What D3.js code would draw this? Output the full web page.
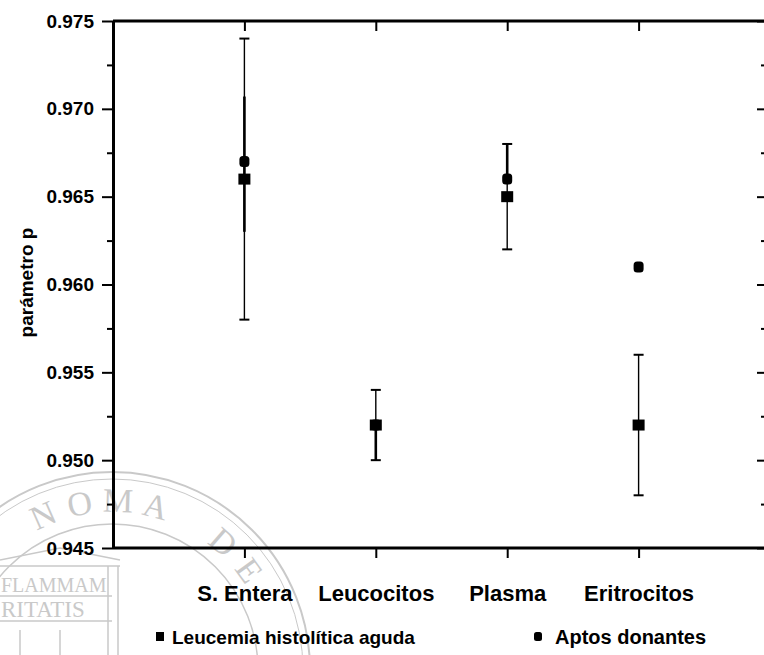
<!DOCTYPE html>
<html>
<head>
<meta charset="utf-8">
<script src="https://cdn.jsdelivr.net/npm/d3@7"></script>
<style>
  html, body { margin: 0; padding: 0; background: #fff; }
  svg { display: block; }
  text { font-family: "Liberation Sans", Arial, sans-serif; }
</style>
</head>
<body>
<svg id="chart" width="764" height="655"></svg>
<script>
// Categories along the x axis
const categories = ["S. Entera", "Leucocitos", "Plasma", "Eritrocitos"];

// Leucemia histolítica aguda: mean and error (±)
const leucemia = [0.966, 0.952, 0.965, 0.952];
const leucemiaErr = [0.008, 0.002, 0.003, 0.004];

// Aptos donantes: mean and error-bar extent
const aptos = [0.967, 0.952, 0.966, 0.961];
const aptosLow = [0.963, 0.950, 0.966, 0.961];
const aptosHigh = [0.9707, 0.952, 0.968, 0.961];

// Y tick values
const yMajor = [0.945, 0.950, 0.955, 0.960, 0.965, 0.970, 0.975];
const yMinor = [0.9475, 0.9525, 0.9575, 0.9625, 0.9675, 0.9725];

// Legend entries
const legendLabels = ["Leucemia histolítica aguda", "Aptos donantes"];

// Seal lettering (the part of the ring that falls on the page)
const sealText = "NOMA DE NUEVO";
const sealMotto = ["FLAMMAM", "RITATIS"];

const svg = d3.select("#chart");
const plotL = 113, plotR = 766, plotT = 21, plotB = 548;

const x = d3.scalePoint().domain(categories).range([plotL, 770]).padding(1);
const y = d3.scaleLinear().domain([0.945, 0.975]).range([plotB, plotT]);

// ---- faint university seal in the lower-left corner ----
const seal = svg.append("g").attr("class", "seal");
const sc = { x: 112, y: 670 };
const sealGray = "#c9c9c9";
const serif = "'Liberation Serif', 'DejaVu Serif', serif";
seal.append("circle").attr("cx", sc.x).attr("cy", sc.y).attr("r", 198)
  .attr("fill", "none").attr("stroke", sealGray).attr("stroke-width", 2);
seal.append("circle").attr("cx", sc.x).attr("cy", sc.y).attr("r", 191)
  .attr("fill", "none").attr("stroke", sealGray).attr("stroke-width", 1);
seal.append("circle").attr("cx", sc.x).attr("cy", sc.y).attr("r", 146)
  .attr("fill", "none").attr("stroke", sealGray).attr("stroke-width", 1.5);
const startAng = -114, stepAng = 13;
sealText.split("").forEach((ch, i) => {
  const a = startAng + i * stepAng;
  const rad = a * Math.PI / 180;
  const r = 158;
  const px = sc.x + r * Math.cos(rad), py = sc.y + r * Math.sin(rad);
  if (py > 640) return;
  seal.append("text")
    .attr("transform", `translate(${px},${py}) rotate(${a + 90})`)
    .attr("text-anchor", "middle")
    .style("font-family", serif)
    .style("font-size", "34px")
    .attr("fill", sealGray)
    .text(ch);
});
// building / inner emblem
seal.append("path")
  .attr("d", "M0,560 L60,548 L120,560 M0,566 L120,566 M0,596 L112,596 M0,621 L112,621 M108,566 L108,655 M118,566 L118,655 M20,630 L20,655 M60,630 L60,655")
  .attr("fill", "none").attr("stroke", sealGray).attr("stroke-width", 1.5);
seal.append("text").attr("x", 1).attr("y", 592)
  .style("font-family", serif).style("font-size", "20px").attr("fill", sealGray).text(sealMotto[0]);
seal.append("text").attr("x", 1).attr("y", 617)
  .style("font-family", serif).style("font-size", "23px").attr("fill", sealGray).text(sealMotto[1]);

// ---- axes ----
const tickFont = "bold 19px 'Liberation Sans', Arial, sans-serif";

// left axis with labels
const gLeft = svg.append("g").attr("transform", `translate(${plotL},0)`)
  .call(d3.axisLeft(y).tickValues(yMajor).tickFormat(d3.format(".3f")).tickSize(11).tickPadding(8).tickSizeOuter(0));
gLeft.selectAll("text").style("font", tickFont).attr("fill", "#000");
gLeft.selectAll(".tick line").attr("stroke", "#000").attr("stroke-width", 2);
gLeft.select(".domain").attr("stroke", "#000").attr("stroke-width", 3);
svg.append("g").attr("transform", `translate(${plotL},0)`)
  .call(d3.axisLeft(y).tickValues(yMinor).tickFormat("").tickSize(6).tickSizeOuter(0))
  .call(g => g.select(".domain").remove())
  .selectAll("line").attr("stroke", "#000").attr("stroke-width", 2);

// right axis (inward ticks)
const gRight = svg.append("g").attr("transform", `translate(${plotR},0)`)
  .call(d3.axisLeft(y).tickValues(yMajor).tickFormat("").tickSize(9).tickSizeOuter(0));
gRight.selectAll("line").attr("stroke", "#000").attr("stroke-width", 2);
gRight.select(".domain").attr("stroke", "#000").attr("stroke-width", 3);
svg.append("g").attr("transform", `translate(${plotR},0)`)
  .call(d3.axisLeft(y).tickValues(yMinor).tickFormat("").tickSize(5).tickSizeOuter(0))
  .call(g => g.select(".domain").remove())
  .selectAll("line").attr("stroke", "#000").attr("stroke-width", 2);

// bottom axis with category labels
const gBottom = svg.append("g").attr("transform", `translate(0,${plotB})`)
  .call(d3.axisBottom(x).tickSize(10).tickPadding(27).tickSizeOuter(0));
gBottom.select(".domain").attr("d", `M${plotL},0H${plotR}`).attr("stroke", "#000").attr("stroke-width", 3);
gBottom.selectAll(".tick line").attr("stroke", "#000").attr("stroke-width", 2);
gBottom.selectAll("text").style("font", "bold 22px 'Liberation Sans', Arial, sans-serif")
  .attr("fill", "#000");

// top axis (inward ticks)
const gTop = svg.append("g").attr("transform", `translate(0,${plotT})`)
  .call(d3.axisBottom(x).tickSize(10).tickFormat("").tickSizeOuter(0));
gTop.select(".domain").attr("d", `M${plotL},0H${plotR}`).attr("stroke", "#000").attr("stroke-width", 3);
gTop.selectAll(".tick line").attr("stroke", "#000").attr("stroke-width", 2);

// y axis title
svg.append("text")
  .attr("transform", `translate(33,${(plotT + plotB) / 2 - 2}) rotate(-90)`)
  .attr("text-anchor", "middle")
  .style("font", "bold 19px 'Liberation Sans', Arial, sans-serif")
  .attr("fill", "#000")
  .text("parámetro p");

// ---- data marks ----
const capW = 10;
const marks = svg.append("g");

// Leucemia error bars
categories.forEach((c, i) => {
  const cx = x(c);
  const lo = y(leucemia[i] - leucemiaErr[i]);
  const hi = y(leucemia[i] + leucemiaErr[i]);
  marks.append("line").attr("x1", cx).attr("x2", cx).attr("y1", lo).attr("y2", hi)
    .attr("stroke", "#000").attr("stroke-width", 1.4);
  [lo, hi].forEach(yy => marks.append("line")
    .attr("x1", cx - capW / 2).attr("x2", cx + capW / 2).attr("y1", yy).attr("y2", yy)
    .attr("stroke", "#000").attr("stroke-width", 2));
});

// Aptos error bars
categories.forEach((c, i) => {
  const cx = x(c);
  marks.append("line").attr("x1", cx).attr("x2", cx)
    .attr("y1", y(aptosLow[i])).attr("y2", y(aptosHigh[i]))
    .attr("stroke", "#000").attr("stroke-width", 2.6);
});

// Aptos points
marks.selectAll(".apt").data(aptos).join("rect")
  .attr("class", "apt")
  .attr("x", (d, i) => x(categories[i]) - 5)
  .attr("y", d => y(d) - 5.5)
  .attr("width", 10).attr("height", 11)
  .attr("rx", 3.5).attr("ry", 3.5)
  .attr("fill", "#000");

// Leucemia points
marks.selectAll(".leu").data(leucemia).join("rect")
  .attr("class", "leu")
  .attr("x", (d, i) => x(categories[i]) - 6)
  .attr("y", d => y(d) - 5.5)
  .attr("width", 12).attr("height", 11)
  .attr("fill", "#000");

// ---- legend ----
const legend = svg.append("g");
legend.append("rect").attr("x", 156).attr("y", 632).attr("width", 8).attr("height", 9).attr("fill", "#000");
legend.append("text").attr("x", 172).attr("y", 644)
  .style("font", "bold 19px 'Liberation Sans', Arial, sans-serif").attr("fill", "#000")
  .text(legendLabels[0]);
legend.append("rect").attr("x", 534).attr("y", 632).attr("width", 8).attr("height", 9)
  .attr("rx", 2.5).attr("ry", 2.5).attr("fill", "#000");
legend.append("text").attr("x", 555).attr("y", 644)
  .style("font", "bold 20px 'Liberation Sans', Arial, sans-serif").attr("fill", "#000")
  .text(legendLabels[1]);
</script>
</body>
</html>
